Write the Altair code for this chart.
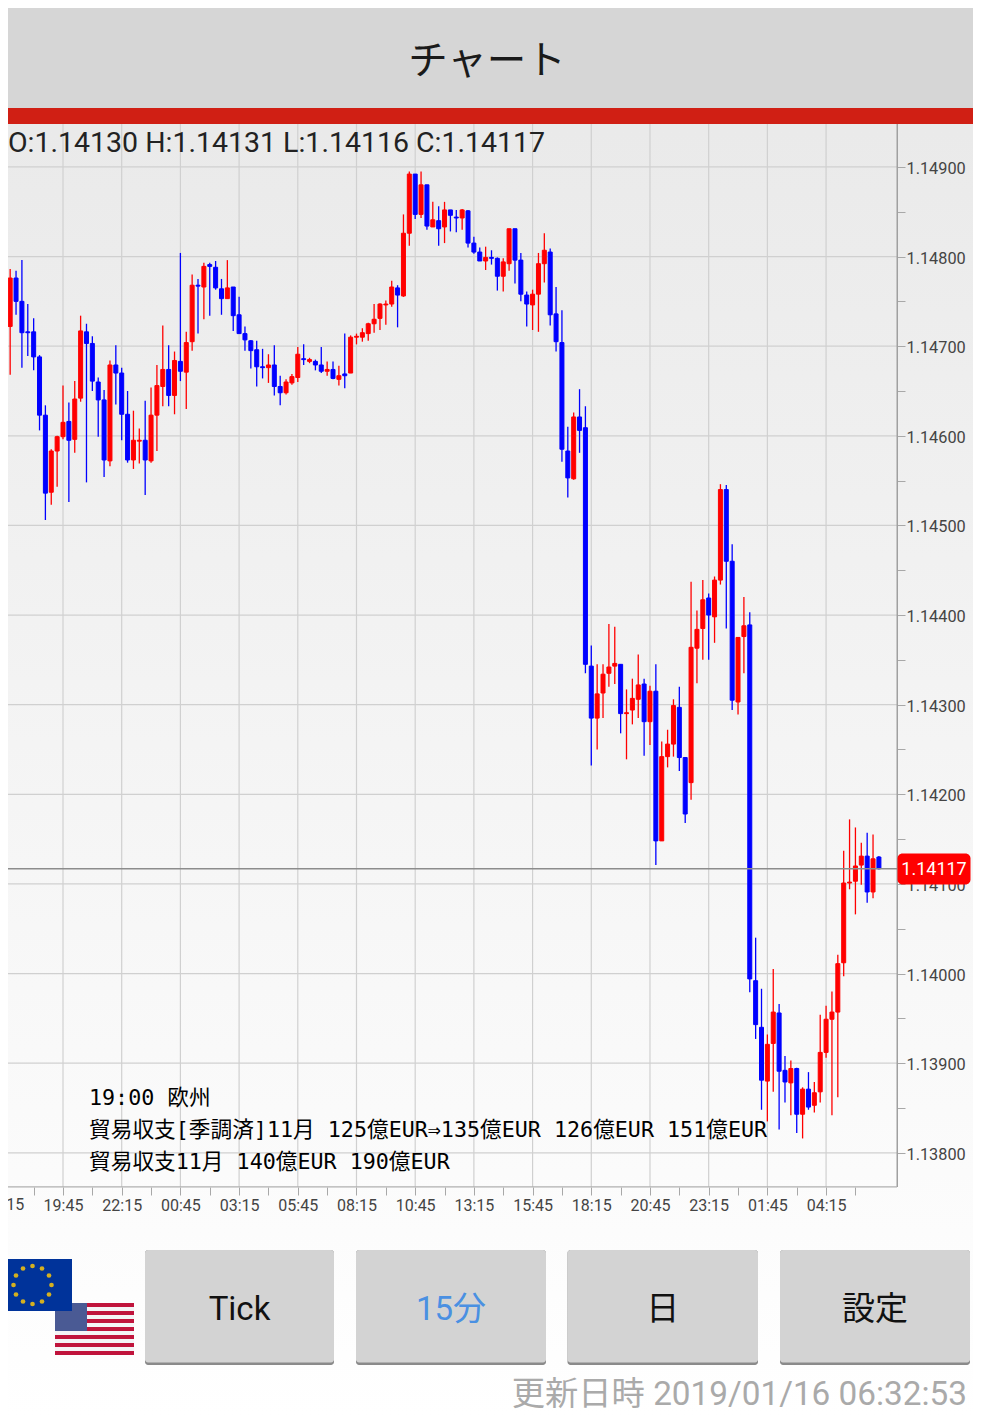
import altair as alt
import pandas as pd

# Candle index -1 .. 149 (15 minute bars); prices in 1e-5 units
opens = [114793,
114758,114722,114776,114750,114716,114716,114688,114623,114537,114583,
114599,114616,114596,114642,114716,114703,114660,114640,114572,114679,
114670,114624,114573,114594,114595,114572,114623,114655,114674,114645,
114683,114671,114705,114768,114766,114791,114788,114764,114753,114766,
114735,114714,114706,114696,114677,114676,114679,114655,114648,114659,
114665,114686,114683,114683,114679,114672,114674,114663,114669,114670,
114710,114710,114714,114725,114731,114746,114747,114765,114756,114826,
114892,114847,114880,114833,114840,114833,114852,114844,114843,114851,
114815,114805,114795,114799,114798,114778,114792,114831,114796,114757,
114746,114758,114792,114805,114736,114704,114583,114552,114621,114609,
114343,114285,114313,114335,114343,114345,114290,114294,114306,114323,
114281,114315,114148,114242,114256,114297,114241,114213,114363,114385,
114419,114398,114439,114540,114460,114303,114376,114389,113992,113940,
113880,113922,113956,113892,113878,113894,113843,113871,113853,113868,
113912,113949,113957,114012,114101,114103,114121,114131,114091,114130]
highs = [114793,
114759,114786,114784,114796,114747,114731,114690,114634,114585,114600,
114656,114637,114661,114734,114725,114711,114665,114651,114684,114701,
114676,114650,114628,114608,114639,114654,114679,114723,114701,114694,
114804,114716,114780,114775,114793,114793,114795,114775,114796,114766,
114755,114722,114707,114706,114697,114691,114701,114667,114663,114669,
114699,114702,114687,114685,114699,114683,114683,114678,114714,114712,
114714,114720,114726,114747,114748,114751,114773,114768,114847,114895,
114892,114895,114880,114861,114856,114861,114852,114852,114853,114852,
114822,114810,114811,114807,114799,114798,114831,114831,114804,114761,
114763,114804,114826,114809,114766,114740,114610,114626,114652,114633,
114366,114345,114345,114390,114387,114345,114317,114329,114356,114329,
114321,114345,114259,114272,114306,114320,114241,114437,114405,114439,
114424,114443,114546,114545,114479,114375,114420,114403,114040,113983,
113932,114005,113966,113908,113903,113895,113873,113890,113879,113954,
113964,113980,114021,114137,114172,114163,114146,114157,114155,114131]
lows = [114757,
114650,114668,114735,114676,114689,114673,114606,114506,114523,114543,
114596,114526,114581,114638,114548,114650,114599,114554,114566,114635,
114595,114570,114563,114569,114534,114570,114583,114633,114633,114624,
114661,114630,114695,114714,114730,114734,114763,114735,114753,114717,
114714,114695,114675,114655,114664,114659,114645,114634,114646,114657,
114660,114679,114681,114673,114670,114667,114663,114656,114653,114670,
114702,114705,114706,114715,114718,114724,114744,114721,114755,114812,
114842,114843,114830,114833,114812,114815,114828,114827,114830,114810,
114803,114795,114785,114791,114762,114761,114784,114770,114750,114722,
114718,114716,114771,114723,114694,114571,114531,114551,114581,114335,
114232,114250,114285,114320,114323,114268,114239,114278,114285,114243,
114255,114121,114148,114230,114242,114226,114168,114194,114324,114350,
114350,114369,114434,114385,114294,114289,114335,113979,113927,113848,
113835,113868,113826,113856,113842,113822,113816,113848,113845,113856,
113906,113842,113862,113997,114094,114066,114099,114079,114084,114116]
closes = [114758,
114723,114776,114750,114715,114715,114688,114623,114536,114583,114599,
114615,114595,114641,114717,114703,114661,114640,114573,114679,114670,
114624,114573,114595,114595,114573,114623,114656,114674,114645,114684,
114672,114704,114768,114767,114789,114789,114765,114753,114765,114734,
114714,114707,114695,114677,114676,114679,114655,114648,114660,114666,
114691,114685,114685,114679,114672,114674,114664,114667,114667,114710,
114711,114715,114725,114730,114747,114747,114766,114757,114826,114892,
114847,114880,114834,114841,114831,114852,114846,114843,114852,114815,
114805,114795,114799,114798,114778,114794,114831,114796,114758,114747,
114758,114792,114807,114735,114705,114585,114553,114621,114606,114345,
114285,114312,114334,114342,114346,114290,114291,114307,114322,114281,
114315,114148,114242,114256,114299,114241,114178,114364,114384,114417,
114400,114439,114540,114460,114305,114375,114388,113994,113943,113881,
113921,113957,113891,113879,113894,113843,113871,113851,113867,113912,
113949,113957,114011,114101,114102,114120,114131,114091,114128,114117]
first_index = -1

time_labels = ["17:15","19:45","22:15","00:45","03:15","05:45","08:15","10:45",
               "13:15","15:45","18:15","20:45","23:15","01:45","04:15"]
tick_index = list(range(0, 150, 5))
grid_index = list(range(0, 150, 10))
grid_prices = [1.138,1.139,1.140,1.141,1.142,1.143,1.144,1.145,1.146,1.147,1.148,1.149]
tick_prices = [1.138,1.1385,1.139,1.1395,1.140,1.1405,1.141,1.1415,1.142,1.1425,1.143,
               1.1435,1.144,1.1445,1.145,1.1455,1.146,1.1465,1.147,1.1475,1.148,1.1485,1.149]
last_price = 1.14117

W, H = 965, 1409
M = 8  # page margin
RED, BLUE = "#ff0000", "#0000ff"
CJK = "Noto Sans CJK JP"
xscale = alt.Scale(domain=[0.63, 165.03], nice=False, zero=False, padding=0)
yscale = alt.Scale(domain=[1.135052, 1.150773], nice=False, zero=False, padding=0)

df = pd.DataFrame({
    "k": [first_index + i for i in range(len(opens))],
    "open": [v / 1e5 for v in opens],
    "high": [v / 1e5 for v in highs],
    "low": [v / 1e5 for v in lows],
    "close": [v / 1e5 for v in closes],
})
df["dir"] = ["up" if c > o else "down" for o, c in zip(df["open"], df["close"])]
dir_scale = alt.Scale(domain=["up", "down"], range=[RED, BLUE])

one = alt.Data(values=[{"a": 1}])

def box(x0, x1, y0, y1, fill, radius=0):
    kw = {"cornerRadius": radius} if radius else {}
    return alt.Chart(one).mark_rect(color=fill, **kw).encode(
        x=alt.value(max(x0 - M, 0)), x2=alt.value(x1 - M), y=alt.value(y0 - M), y2=alt.value(y1 - M))

def label(x, y, s, size, col, font=CJK, align="center", baseline="middle", weight="normal"):
    return alt.Chart(one).mark_text(text=s, fontSize=size, color=col, font=font, align=align,
                                    baseline=baseline, fontWeight=weight).encode(
        x=alt.value(x - M), y=alt.value(y - M))

lab_js = "[" + ",".join("'%s'" % s for s in time_labels) + "]"
xaxis = alt.Axis(
    orient="bottom", offset=-230, values=tick_index, title=None, grid=False, domain=False,
    tickSize=8, tickColor="#a8a8a8", labelFont="Roboto", labelFontSize=16, labelColor="#444444",
    labelPadding=2, labelOverlap=False, labelFlush=False, labelBound=False, labelAngle=0,
    labelExpr="datum.value % 10 == 0 ? " + lab_js + "[datum.value / 10] : ''")
yaxis = alt.Axis(
    orient="right", offset=-76, values=tick_prices, title=None, grid=False, domain=False,
    tickSize=8, tickColor="#a8a8a8", labelFont="Roboto", labelFontSize=16.3, labelColor="#444444",
    labelPadding=1, labelOffset=1.5, labelOverlap=False, labelFlush=False, labelBound=False,
    labelExpr="round(datum.value * 100000) % 100 == 0 ? format(datum.value, '.5f') : ''")

layers = []

# grid
layers.append(alt.Chart(pd.DataFrame({"p": grid_prices})).mark_rule(color="#d0d0d0", strokeWidth=1.2).encode(
    y=alt.Y("p:Q", scale=yscale, axis=yaxis), x=alt.value(0), x2=alt.value(897 - M)))
layers.append(alt.Chart(pd.DataFrame({"k": grid_index})).mark_rule(color="#d0d0d0", strokeWidth=1.2).encode(
    x=alt.X("k:Q", scale=xscale, axis=xaxis), y=alt.value(124 - M), y2=alt.value(1187 - M)))
# axis lines
layers.append(box(896.5, 898, 124, 1187, "#a0a0a0"))
layers.append(box(0, 897, 1186.2, 1187.6, "#b0b0b0"))

# first time label sits at the page edge, outside the axis range
layers.append(alt.Chart(pd.DataFrame({"k": [0], "t": [time_labels[0]]})).mark_text(
    font="Roboto", fontSize=16, color="#444444", align="center", baseline="middle").encode(
    x=alt.X("k:Q", scale=xscale, axis=xaxis), y=alt.value(1205 - M), text="t:N"))

# candles
wicks = alt.Chart(df).mark_rule(strokeWidth=1.3).encode(
    x=alt.X("k:Q", scale=xscale, axis=xaxis),
    y=alt.Y("high:Q", scale=yscale, axis=yaxis),
    y2="low:Q", color=alt.Color("dir:N", scale=dir_scale, legend=None))
bodies = alt.Chart(df).mark_bar(size=4, strokeWidth=1).encode(
    x=alt.X("k:Q", scale=xscale, axis=xaxis), y=alt.Y("open:Q", scale=yscale, axis=yaxis), y2="close:Q",
    color=alt.Color("dir:N", scale=dir_scale, legend=None),
    stroke=alt.Stroke("dir:N", scale=dir_scale, legend=None))
layers += [wicks, bodies]

# current price line and badge
layers.append(alt.Chart(pd.DataFrame({"p": [last_price]})).mark_rule(color="#8c8c8c", strokeWidth=1.5).encode(
    y=alt.Y("p:Q", scale=yscale, axis=yaxis), x=alt.value(0), x2=alt.value(897 - M)))
layers.append(box(897.5, 970.5, 853.5, 884.5, "#ff0000", 5))
layers.append(alt.Chart(pd.DataFrame({"p": [last_price]})).mark_text(
    text="1.14117", color="white", font="Roboto", fontSize=18, align="center", baseline="middle", dy=1).encode(
    y=alt.Y("p:Q", scale=yscale, axis=yaxis), x=alt.value(934 - M)))

# header
layers.append(box(0, 981, 0, 108, "#d6d6d6"))
layers.append(box(0, 981, 108, 124, "#d01f14"))
layers.append(label(487, 62, "チャート", 39.5, "#1a1a1a"))
layers.append(label(8, 143, "O:1.14130 H:1.14131 L:1.14116 C:1.14117", 28.5, "#222222", "Roboto", "left"))

# event text
MONO = "DejaVu Sans Mono, " + CJK
layers.append(label(89, 1098, "19:00 欧州", 21.7, "#000000", MONO, "left"))
layers.append(label(89, 1130, "貿易収支[季調済]11月 125億EUR⇒135億EUR 126億EUR 151億EUR", 21.7, "#000000", MONO, "left"))
layers.append(label(89, 1162, "貿易収支11月 140億EUR 190億EUR", 21.7, "#000000", MONO, "left"))

# flags
stripe_rows = [0, 2, 4, 6, 8, 10, 12]
layers.append(box(55, 134, 1303, 1355, "#f4f4f6"))
for r in stripe_rows:
    layers.append(box(55, 134, 1303 + r * 4, 1303 + (r + 1) * 4, "#c0143c"))
layers.append(box(55, 87, 1303, 1331, "#4a5a94"))
layers.append(box(0, 72, 1259, 1311, "#00339a"))
ring_x = [32.5, 42, 49, 51.5, 49, 42, 32.5, 23, 16, 13.5, 16, 23]
ring_y = [1266, 1268.5, 1275.5, 1285, 1294.5, 1301.5, 1304, 1301.5, 1294.5, 1285, 1275.5, 1268.5]
for sx, sy in zip(ring_x, ring_y):
    layers.append(alt.Chart(one).mark_point(shape="circle", filled=True, size=22, color="#d4b020", opacity=1).encode(
        x=alt.value(sx - M), y=alt.value(sy - M)))

# buttons
buttons = [(145, 334, "Tick", "#111111"), (356, 546, "15分", "#4a90e2"),
           (567.5, 758, "日", "#111111"), (780, 970, "設定", "#111111")]
for x0, x1, s, c in buttons:
    layers.append(box(x0, x1, 1250, 1365, "#8a8a8a", 3))
    layers.append(box(x0, x1, 1250, 1362.5, "#d3d3d3", 3))
    layers.append(label((x0 + x1) / 2, 1310, s, 33, c, "Roboto, " + CJK))

# footer
layers.append(label(967, 1395, "更新日時 2019/01/16 06:32:53", 33.3, "#aaaaaa", "Roboto, " + CJK, "right"))

gradient = ("{gradient:'linear',x1:0,y1:0,x2:0,y2:1,"
            "stops:[{offset:0,color:'#e8e8e8'},{offset:1,color:'#ffffff'}]}")

chart = alt.layer(*layers).properties(
    width=W, height=H, padding=0,
    autosize=alt.AutoSizeParams(type="none"),
    view={"fill": {"expr": gradient}, "strokeWidth": 0},
)
chart.save("out.html", embed_options={"renderer": "svg", "actions": False})
